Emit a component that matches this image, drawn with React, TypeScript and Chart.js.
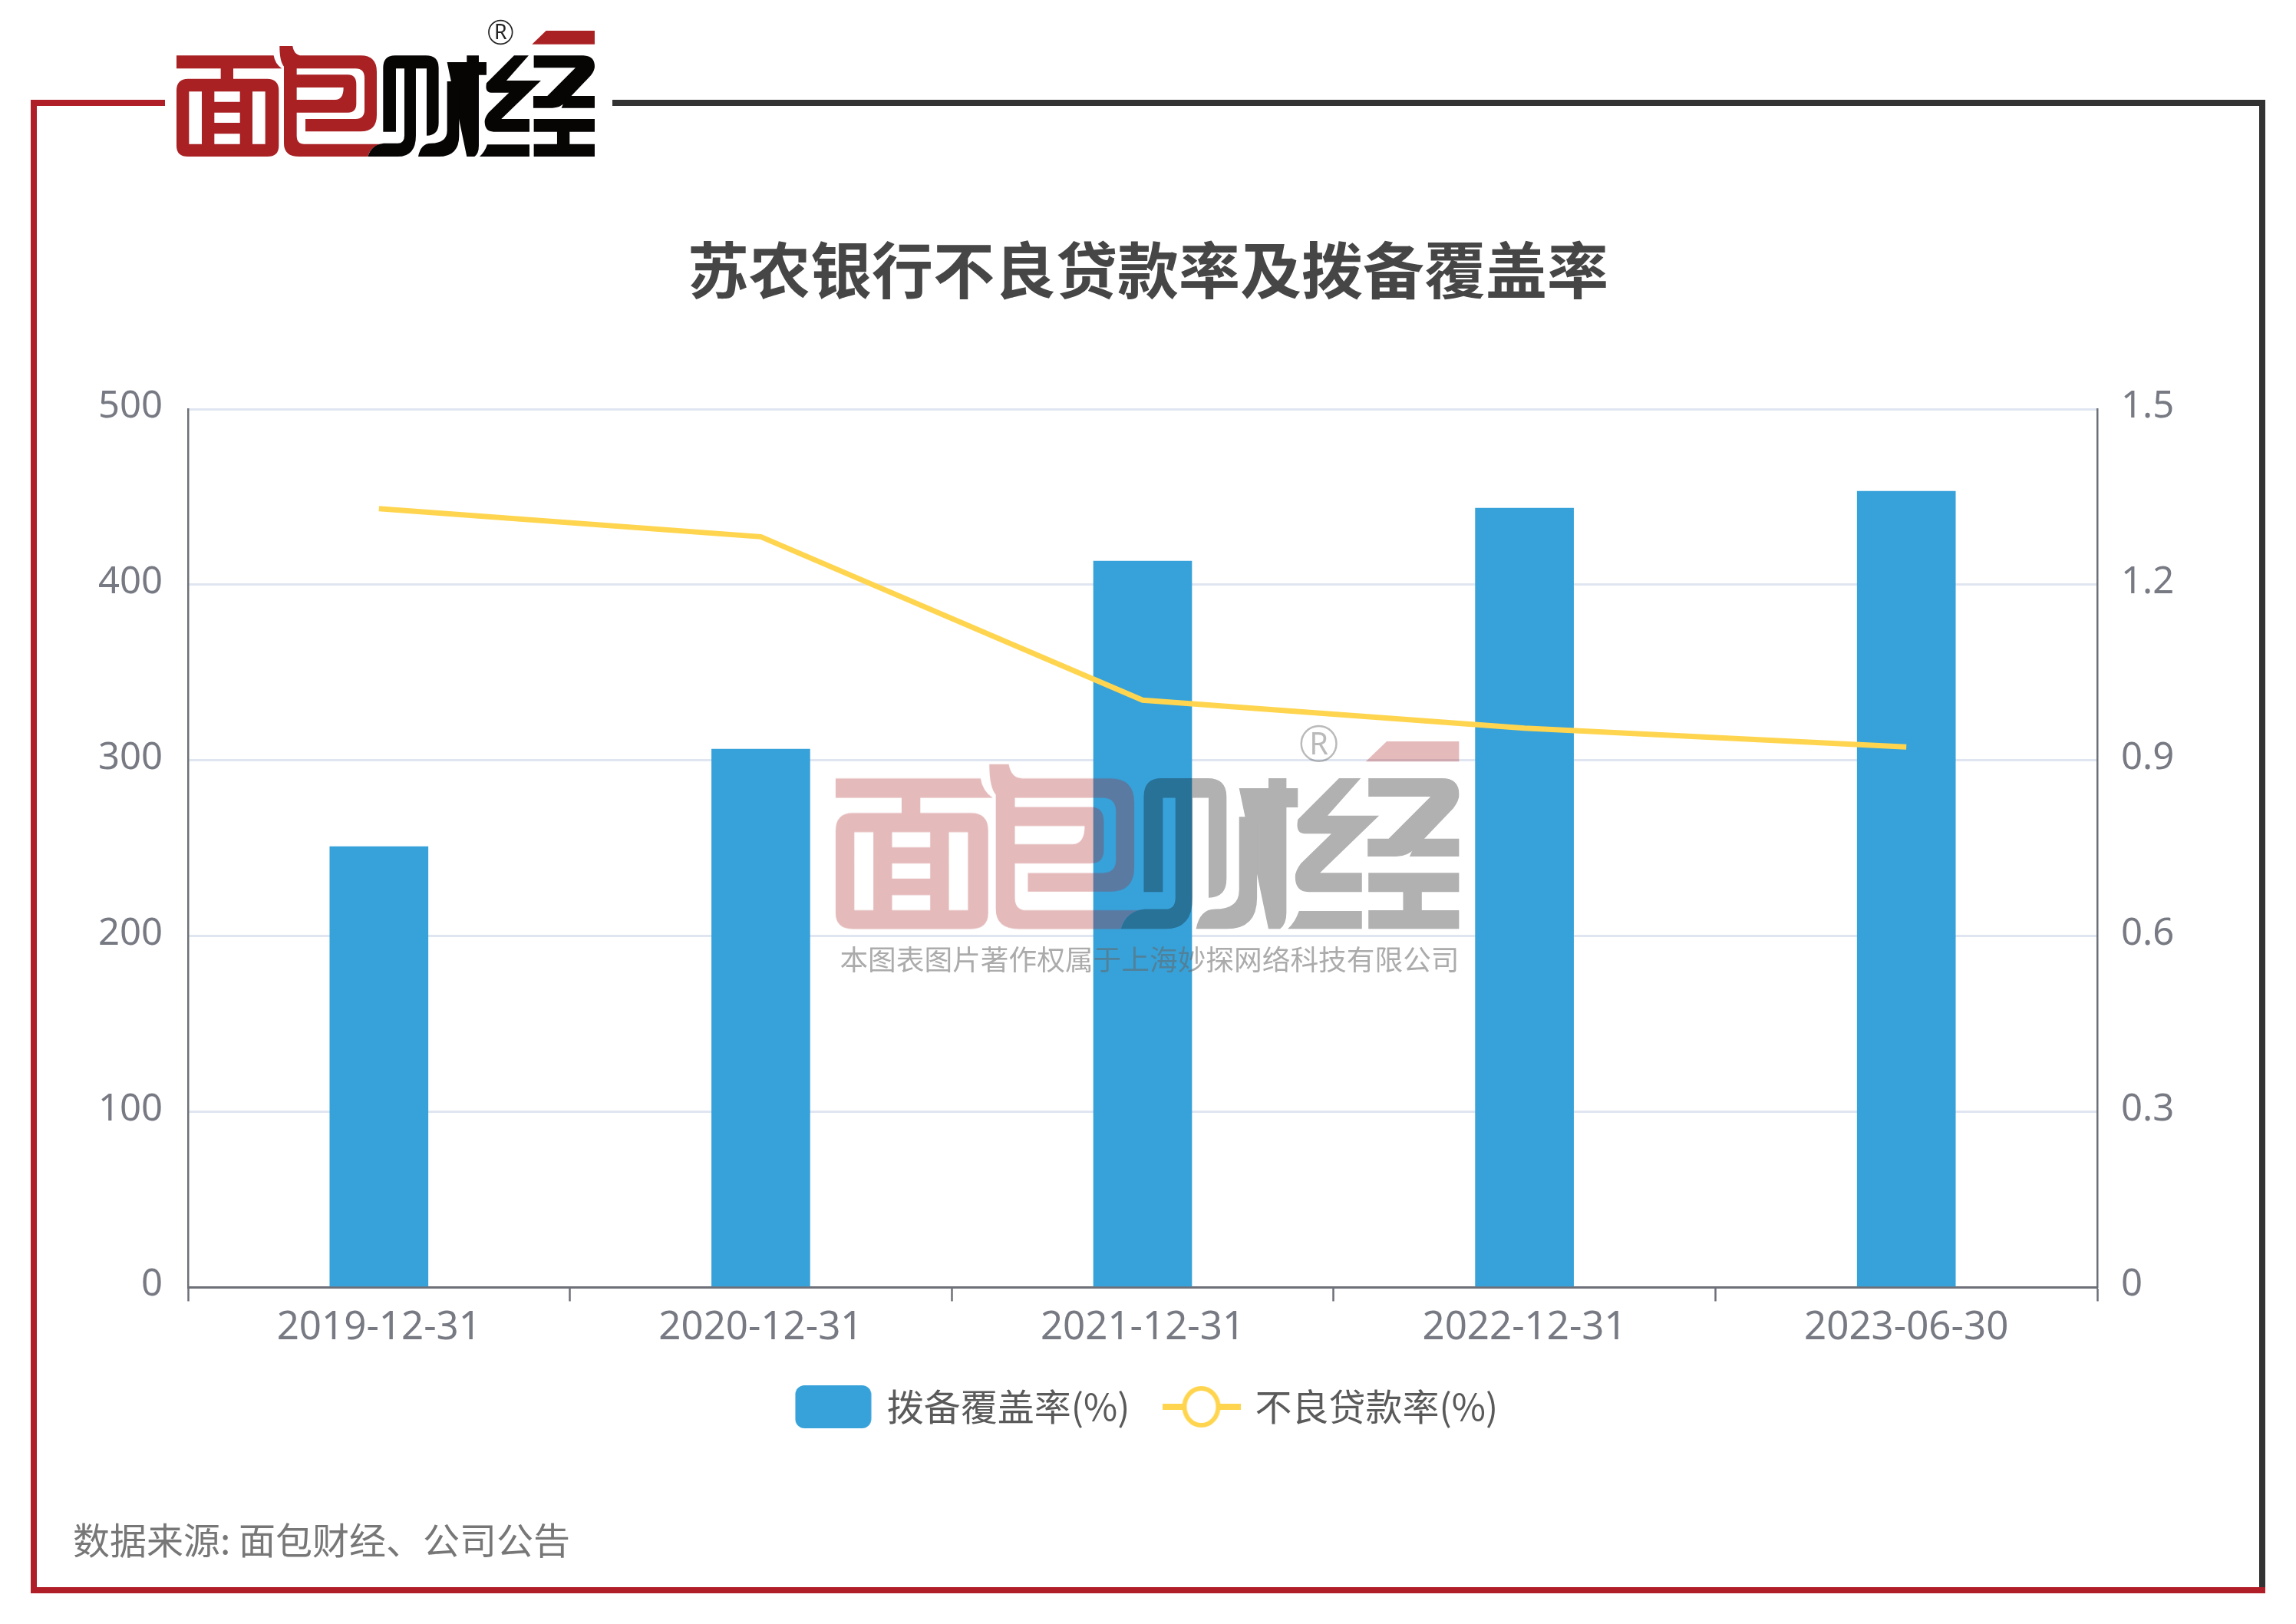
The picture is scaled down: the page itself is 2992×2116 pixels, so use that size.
import React, { useEffect, useRef } from "react";
import { Chart, registerables } from "chart.js";

Chart.register(...registerables);

const categories = ["2019-12-31", "2020-12-31", "2021-12-31", "2022-12-31", "2023-06-30"];
const coverageValues = [250.9, 306.4, 413.5, 443.6, 453.2];
const nplValues = [1.33, 1.282, 1.003, 0.955, 0.923];
const leftTicks = [0, 100, 200, 300, 400, 500];
const rightTicks = [0, 0.3, 0.6, 0.9, 1.2, 1.5];
const coverageName = "拨备覆盖率(%)";
const nplName = "不良贷款率(%)";
const titleText = "苏农银行不良贷款率及拨备覆盖率";
const sourceText = "数据来源: 面包财经、公司公告";
const copyrightText = "本图表图片著作权属于上海妙探网络科技有限公司";

const BLUE = "#37A2DA";
const YELLOW = "#FFD54F";
const AXIS = "#6E7079";
const LABEL = "#777983";
const FONT = '"Noto Sans", "Noto Sans CJK SC", sans-serif';
const CJK = '"Noto Sans CJK SC", "Noto Sans", sans-serif';

function legendBox() {
  const c = document.createElement("canvas");
  c.width = 100;
  c.height = 58;
  const g = c.getContext("2d")!;
  g.fillStyle = BLUE;
  g.beginPath();
  g.roundRect(0.5, 1, 99, 56, 12);
  g.fill();
  return c;
}

function legendLine() {
  const c = document.createElement("canvas");
  c.width = 102;
  c.height = 58;
  const g = c.getContext("2d")!;
  g.strokeStyle = YELLOW;
  g.lineWidth = 8;
  g.beginPath();
  g.moveTo(0, 29);
  g.lineTo(102, 29);
  g.stroke();
  g.fillStyle = "#fff";
  g.lineWidth = 6;
  g.beginPath();
  g.ellipse(51, 29, 22, 24, 0, 0, Math.PI * 2);
  g.fill();
  g.stroke();
  return c;
}

function LogoMarks() {
  return (
    <>
      <path
        fill="#AA2124"
        fillRule="evenodd"
        d="M30 127 H410 Q415 160 442 178 H252 V218 H385 Q430 218 430 265 V480 Q430 522 385 522 H75 Q30 522 30 480 V265 Q30 218 75 218 H203 V178 H30 Z
           M79 268 V473 H129 V268 Z M178 268 V308 H278 V268 Z M178 350 V390 H278 V350 Z M178 433 V473 H278 V433 Z M327 268 V473 H377 V268 Z"
      />
      <path
        fill="#AA2124"
        fillRule="evenodd"
        d="M433 90 H484 Q490 127 520 127 H750 Q813 127 813 190 V360 Q813 424 750 424 H534 V375 H730 Q765 375 765 340 V215 Q765 178 730 178 H500 V202 H700 Q733 202 733 240 V315 Q733 350 700 350 H500 V440 Q500 473 530 473 H830 Q790 480 778 522 H510 Q450 522 450 470 V170 Q433 150 433 90 Z
           M500 252 V300 H650 Q683 300 683 252 Z"
      />
      <g fill="#070404" transform="translate(810 0)">
        <path
          fillRule="evenodd"
          d="M28 425 V175 Q28 127 75 127 H195 Q245 127 245 175 V390 Q245 440 198 440 V178 H156 V440 Q156 522 85 522 H-32 Q-18 475 30 470 H85 Q111 470 111 440 V178 H78 V425 Z"
        />
        <path d="M278 153 H355 V127 H402 V153 H432 V203 H402 V480 Q402 510 385 522 H355 Z" />
        <path d="M278 228 H325 V440 Q325 522 245 522 H165 Q175 470 215 470 Q278 470 278 420 Z" />
        <path d="M540 127 H597 L510 225 H645 L490 375 H600 V425 H460 Q425 425 425 385 Q425 370 440 350 L520 272 H450 Q425 272 432 235 Z" />
        <path d="M435 475 H600 V522 H405 Q425 505 435 475 Z" />
        <path d="M617 127 H810 Q855 127 855 170 Q855 185 840 205 L740 310 Q720 332 690 332 H615 V285 H670 L780 175 H617 Z" />
        <path d="M745 285 H855 V332 H725 Q735 310 745 285 Z" />
        <path d="M617 375 H855 V425 H757 V473 H855 V522 H617 V473 H708 V425 H617 Z" />
        <path fill="#AA2124" d="M665 30 H855 V83 H610 Z" />
        <circle cx="487" cy="36" r="46" fill="none" stroke="#222" strokeWidth="5" />
        <text x="487" y="64" textAnchor="middle" fontSize="80" fontFamily={FONT} fill="#222">
          R
        </text>
      </g>
    </>
  );
}

export default function App() {
  const ref = useRef<HTMLCanvasElement>(null);

  useEffect(() => {
    const canvas = ref.current!;
    const boxIcon = legendBox();
    const lineIcon = legendLine();
    const chart = new Chart(canvas, {
      data: {
        labels: categories,
        datasets: [
          {
            type: "bar",
            label: coverageName,
            data: coverageValues,
            backgroundColor: BLUE,
            barThickness: 128,
            yAxisID: "y",
            order: 2,
          },
          {
            type: "line",
            label: nplName,
            data: nplValues,
            borderColor: YELLOW,
            borderWidth: 7,
            tension: 0,
            pointRadius: 0,
            yAxisID: "y1",
            order: 1,
          },
        ],
      } as any,
      options: {
        responsive: false,
        animation: false,
        devicePixelRatio: 1,
        layout: { padding: { left: 0, right: 0, top: 0, bottom: 249 } },
        plugins: {
          tooltip: { enabled: false },
          title: {
            display: true,
            text: titleText,
            color: "#464646",
            font: { family: CJK, size: 80, weight: "bold", lineHeight: 1.2 },
            padding: { top: 304, bottom: 133 },
          },
          legend: {
            display: true,
            position: "bottom",
            labels: {
              usePointStyle: true,
              pointStyleWidth: 92,
              padding: 47,
              color: "#5A5A5A",
              font: { family: CJK, size: 48, lineHeight: 1.2 },
              generateLabels: () => [
                {
                  text: coverageName,
                  pointStyle: boxIcon,
                  fontColor: "#5A5A5A",
                  hidden: false,
                  datasetIndex: 0,
                },
                {
                  text: nplName,
                  pointStyle: lineIcon,
                  fontColor: "#5A5A5A",
                  hidden: false,
                  datasetIndex: 1,
                },
              ],
            },
          },
        },
        scales: {
          x: {
            type: "category",
            afterFit: (s: any) => {
              s.height = 84.5;
            },
            grid: {
              display: true,
              drawOnChartArea: false,
              drawTicks: true,
              tickLength: 18,
              tickColor: AXIS,
              tickWidth: 2.5,
              offset: true,
            },
            border: { display: true, color: AXIS, width: 3 },
            ticks: {
              color: LABEL,
              padding: 4,
              maxRotation: 0,
              autoSkip: false,
              font: { family: FONT, size: 51 },
            },
          },
          y: {
            position: "left",
            min: 0,
            max: 500,
            afterFit: (s: any) => {
              s.width = 245;
            },
            afterBuildTicks: (s: any) => {
              s.ticks = leftTicks.map((value) => ({ value }));
            },
            grid: { color: "#E0E6F1", lineWidth: 3, drawTicks: false },
            border: { display: true, color: AXIS, width: 2.5 },
            ticks: {
              color: LABEL,
              padding: 33,
              labelOffset: -3,
              font: { family: FONT, size: 49 },
            },
          },
          y1: {
            position: "right",
            min: 0,
            max: 1.5,
            afterFit: (s: any) => {
              s.width = 259;
            },
            afterBuildTicks: (s: any) => {
              s.ticks = rightTicks.map((value) => ({ value }));
            },
            grid: { display: false, drawOnChartArea: false, drawTicks: false },
            border: { display: true, color: AXIS, width: 2.5 },
            ticks: {
              color: LABEL,
              padding: 31,
              labelOffset: -3,
              font: { family: FONT, size: 49 },
              callback: (v: any) => (Number(v) === 0 ? "0" : Number(v).toFixed(1)),
            },
          },
        },
      } as any,
    });
    return () => chart.destroy();
  }, []);

  return (
    <div style={{ position: "absolute", left: 0, top: 0, width: 2992, height: 2116, background: "#fff", overflow: "hidden" }}>
      <canvas
        ref={ref}
        width={2992}
        height={2116}
        style={{ position: "absolute", left: 0, top: 0, width: 2992, height: 2116, filter: "blur(0.7px)" }}
      />
      <svg width={2992} height={2116} style={{ position: "absolute", left: 0, top: 0 }}>
        <rect x={40} y={130} width={175} height={8} fill="#B01E28" />
        <rect x={40} y={130} width={8} height={1946} fill="#B01E28" />
        <rect x={798} y={130} width={2154} height={8} fill="#333333" />
        <rect x={2944} y={130} width={8} height={1938} fill="#333333" />
        <rect x={40} y={2068} width={2912} height={8} fill="#B01E28" />
        <g transform="translate(220 30) scale(0.3333)">
          <LogoMarks />
        </g>
        <g transform="translate(1074 951) scale(0.497)" opacity={0.31}>
          <LogoMarks />
        </g>
        <text
          x={1498}
          y={1264}
          textAnchor="middle"
          fontSize={36.7}
          fontFamily={CJK}
          fill="#666666"
          opacity={0.55}
        >
          {copyrightText}
        </text>
        <text x={95} y={2025} fontSize={48} fontFamily={CJK} fill="#777777">
          {sourceText}
        </text>
      </svg>
    </div>
  );
}
